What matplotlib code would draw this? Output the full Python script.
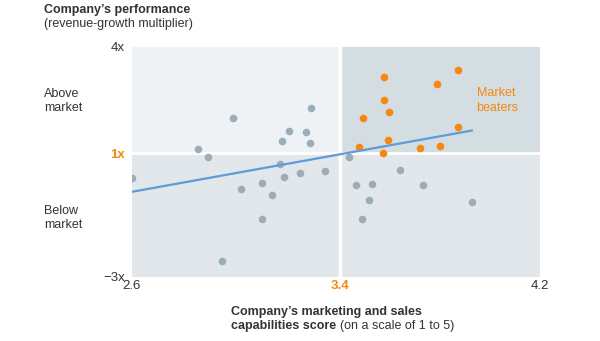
import numpy as np
import matplotlib.pyplot as plt
from matplotlib.patches import Rectangle

plt.rcParams['font.family'] = ['Liberation Sans', 'DejaVu Sans']

# marketing & sales score vs. revenue-growth multiplier
gray_x = [2.60, 2.856, 2.892, 2.989, 3.019, 2.947, 3.102, 3.102, 3.140, 3.176,
          3.171, 3.184, 3.205, 3.247, 3.269, 3.285, 3.290, 3.342, 3.437, 3.465,
          3.529, 3.517, 3.489, 3.641, 3.731, 3.927]
gray_y = [0.19, 1.11, 0.88, 1.99, -0.15, -2.48, 0.03, -1.14, -0.36, 1.35,
          0.65, 0.22, 1.64, 0.37, 1.60, 1.30, 2.27, 0.43, 0.89, -0.03,
          0.00, -0.50, -1.12, 0.46, -0.03, -0.58]
beat_x = [3.576, 3.873, 3.787, 3.576, 3.595, 3.491, 3.873, 3.591, 3.476, 3.573,
          3.721, 3.799]
beat_y = [3.14, 3.35, 2.94, 2.50, 2.17, 1.98, 1.74, 1.37, 1.17, 1.00,
          1.15, 1.20]
trend_x = [2.60, 3.927]
trend_y = [-0.25, 1.64]

x_ticks = [2.6, 3.4, 4.2]
x_labels = ['2.6', '3.4', '4.2']
y_ticks = [-3, 1, 4]
y_labels = ['\u22123x', '1x', '4x']

ORANGE = '#f7870f'
DOT_GRAY = '#9aadb8'
TEXT = '#333333'
FS = 9


def stretched(knots, spots):
    # piecewise-linear axis, extended linearly past the end knots
    lo = (spots[1] - spots[0]) / (knots[1] - knots[0])
    hi = (spots[-1] - spots[-2]) / (knots[-1] - knots[-2])
    k = [knots[0] - 1000] + list(knots) + [knots[-1] + 1000]
    s = [spots[0] - 1000 * lo] + list(spots) + [spots[-1] + 1000 * hi]
    return (lambda v: np.interp(v, k, s), lambda v: np.interp(v, s, k))


fig = plt.figure(figsize=(6, 3.41), dpi=100)
ax = fig.add_axes([131.7 / 600, 1 - 276.7 / 341, 408.3 / 600, 230 / 341])

ax.set_xscale('function', functions=stretched([2.6, 3.4, 4.2], [0, 208.3, 408.3]))
ax.set_yscale('function', functions=stretched([-3, 1, 4], [0, 123.4, 230]))
ax.set_xlim(2.6, 4.2)
ax.set_ylim(-3, 4)

# quadrant shading
ax.add_patch(Rectangle((2.6, 1), 0.8, 3, color='#eff2f5', zorder=0))
ax.add_patch(Rectangle((3.4, 1), 0.8, 3, color='#d4dde2', zorder=0))
ax.add_patch(Rectangle((2.6, -3), 1.6, 4, color='#e2e7eb', zorder=0))
ax.axhline(1, color='white', lw=2, zorder=1)
ax.axvline(3.4, color='white', lw=2.5, zorder=1)

ax.scatter(gray_x, gray_y, s=30, color=DOT_GRAY, lw=0, zorder=2)
ax.scatter(beat_x, beat_y, s=30, color=ORANGE, lw=0, zorder=2)
ax.plot(trend_x, trend_y, color='#5f9bd6', lw=1.6, zorder=3)

for s in ax.spines.values():
    s.set_visible(False)

ax.set_xticks(x_ticks, x_labels)
ax.set_yticks(y_ticks, y_labels)
ax.xaxis.set_minor_locator(plt.NullLocator())
ax.yaxis.set_minor_locator(plt.NullLocator())
ax.tick_params(length=0, labelsize=9.5, labelcolor=TEXT)
ax.tick_params(axis='x', pad=2.5)
ax.tick_params(axis='y', pad=5)
for lab in [ax.get_xticklabels()[1], ax.get_yticklabels()[1]]:
    lab.set_color(ORANGE)
    lab.set_fontweight('bold')

fig.text(476.5 / 600, 1 - 100.5 / 341, 'Market\nbeaters', color=ORANGE,
         fontsize=FS, va='center', ha='left', linespacing=1.25)

fig.text(44 / 600, 1 - 10 / 341, 'Company\u2019s performance', fontsize=FS,
         fontweight='bold', color=TEXT, va='center')
fig.text(44 / 600, 1 - 24 / 341, '(revenue-growth multiplier)', fontsize=FS,
         color=TEXT, va='center')
fig.text(44 / 600, 1 - 101 / 341, 'Above\nmarket', fontsize=FS, color=TEXT,
         va='center', linespacing=1.25)
fig.text(44 / 600, 1 - 218 / 341, 'Below\nmarket', fontsize=FS, color=TEXT,
         va='center', linespacing=1.25)

fig.text(231.5 / 600, 1 - 312.5 / 341, 'Company\u2019s marketing and sales',
         fontsize=FS, fontweight='bold', color=TEXT, va='center')
t = fig.text(231.5 / 600, 1 - 326.5 / 341, 'capabilities score', fontsize=FS,
             fontweight='bold', color=TEXT, va='center')
fig.canvas.draw()
bb = t.get_window_extent()
fig.text(bb.x1 / 600 + 3 / 600, 1 - 326.5 / 341, '(on a scale of 1 to 5)',
         fontsize=FS, color=TEXT, va='center')

fig.savefig('out.png', dpi=100)
